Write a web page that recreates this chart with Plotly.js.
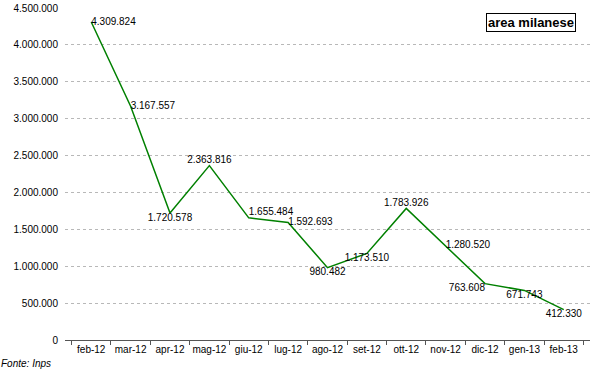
<!DOCTYPE html>
<html><head><meta charset="utf-8">
<script src="https://cdn.plot.ly/plotly-3.0.1.min.js"></script>
<style>body{margin:0;background:#fff}#c{width:600px;height:372px}</style>
</head><body><div id="c"></div>
<script>
const months = ['feb-12','mar-12','apr-12','mag-12','giu-12','lug-12','ago-12','set-12','ott-12','nov-12','dic-12','gen-13','feb-13'];
const values = [4309824,3167557,1720578,2363816,1655484,1592693,980482,1173510,1783926,1280520,763608,671743,412330];
const labelPos = ['middle right','middle right','bottom center','top center','top right','middle right','bottom center','bottom center','top center','middle right','bottom left','bottom center','bottom center'];
const yTicks = [0,500000,1000000,1500000,2000000,2500000,3000000,3500000,4000000,4500000];

const trace = {
  x: months, y: values, type: 'scatter', mode: 'lines+text',
  line: {color: '#008000', width: 1.5},
  texttemplate: '%{y:,d}', textposition: labelPos,
  textfont: {family: 'Liberation Sans, Arial', size: 10, color: '#000'},
  cliponaxis: false, hoverinfo: 'none'
};
const layout = {
  width: 600, height: 372,
  margin: {l: 65, r: 10, t: 8, b: 32},
  separators: ',.',
  paper_bgcolor: '#fff', plot_bgcolor: '#fff',
  showlegend: false,
  font: {family: 'Liberation Sans, Arial', size: 10, color: '#000'},
  xaxis: {type: 'category', tickson: 'boundaries', ticks: 'outside', ticklen: 4, tickcolor: '#555',
    tickangle: 0, showline: true, linecolor: '#555', linewidth: 1, showgrid: false, zeroline: false,
    tickfont: {size: 10}},
  yaxis: {range: [0, 4500000], tickvals: yTicks, tickformat: ',d', showline: false,
    gridcolor: '#b8b8b8', griddash: 'dot', gridwidth: 1, zeroline: false, ticks: '', ticklen: 0,
    ticklabelstandoff: 6, tickfont: {size: 10}},
  annotations: [
    {xref: 'paper', yref: 'paper', x: 0.973, y: 0.985, xanchor: 'right', yanchor: 'top',
     text: '<b>area milanese</b>', showarrow: false, bordercolor: '#000', borderwidth: 1,
     borderpad: 1, bgcolor: '#fff', font: {size: 13, color: '#000'}},
    {xref: 'paper', yref: 'paper', x: -0.124, y: -0.09, xanchor: 'left', yanchor: 'bottom',
     text: '<i>Fonte: Inps</i>', showarrow: false, borderpad: 0, font: {size: 10, color: '#000'}}
  ]
};
Plotly.newPlot('c', [trace], layout, {displayModeBar: false, staticPlot: true});
</script></body></html>
